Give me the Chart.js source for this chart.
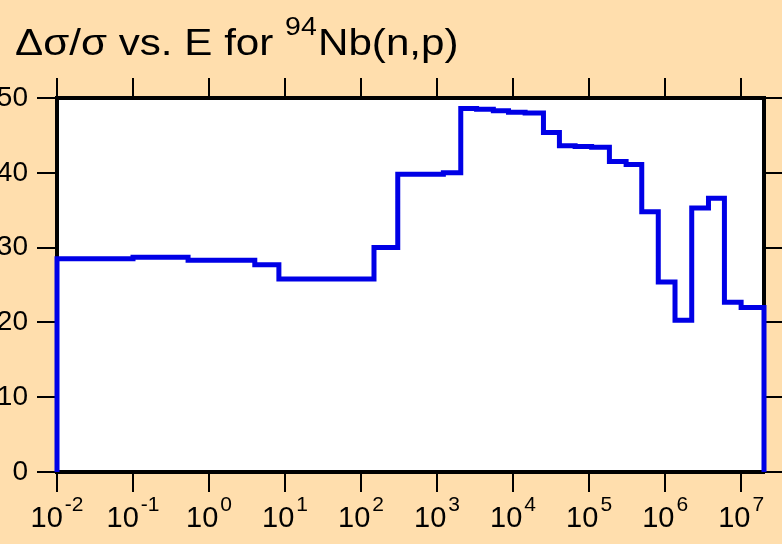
<!DOCTYPE html>
<html>
<head>
<meta charset="utf-8">
<script src="https://cdn.jsdelivr.net/npm/chart.js@4/dist/chart.umd.min.js"></script>
<style>
  html, body { margin: 0; padding: 0; background: #FFDEAD; }
  #box { position: relative; width: 782px; height: 544px; overflow: hidden; }
  canvas { position: absolute; left: 0; top: 0; }
</style>
</head>
<body>
<div id="box"><canvas id="c" width="782" height="544"></canvas></div>
<script>
// Group boundaries (eV) and relative uncertainty (%) in each group
const groupEdges = [
  0.01, 0.1, 0.53, 4.0, 8.3, 148, 304, 1210, 2050, 3310, 5500, 8710,
  14400, 25100, 40700, 65500, 108000, 185000, 307000, 493000, 813000,
  1.35e6, 2.24e6, 3.72e6, 6.03e6, 1.0e7, 2.0e7
];
const relUncertainty = [
  28.5, 28.7, 28.3, 27.7, 25.8, 30.0, 39.8, 40.0, 48.6, 48.5, 48.3,
  48.1, 48.0, 45.4, 43.6, 43.5, 43.4, 41.5, 41.1, 34.8, 25.4, 20.3,
  35.3, 36.6, 22.7, 22.0
];
const decadeExponents = [-2, -1, 0, 1, 2, 3, 4, 5, 6, 7];
const yTickValues = [0, 10, 20, 30, 40, 50];
const titleMain = ['\u0394\u03c3/\u03c3 vs. E for ', 'Nb(n,p)'];
const titleSup = '94';

// Histogram outline: each group's value is reached at its lower edge and held to its upper edge
const points = [{ x: groupEdges[0], y: 0 }];
relUncertainty.forEach((v, i) => points.push({ x: groupEdges[i + 1], y: v }));
points.push({ x: groupEdges[groupEdges.length - 1], y: 0 });

const FONT = '"Liberation Sans", Arial, Helvetica, sans-serif';
const tickGrid = { drawOnChartArea: false, drawTicks: true, tickLength: 20, color: '#000', lineWidth: 2 };
const frame = { display: true, color: '#000', width: 4 };
const decadeTicks = s => { s.ticks = decadeExponents.map(e => ({ value: Math.pow(10, e) })); };

const labelsPlugin = {
  id: 'labels',
  afterDraw(chart) {
    const ctx = chart.ctx;
    const xs = chart.scales.x;
    ctx.save();
    ctx.fillStyle = '#000';
    ctx.textBaseline = 'alphabetic';
    ctx.textAlign = 'left';
    // decade labels 10^n
    decadeExponents.forEach(e => {
      const px = xs.getPixelForValue(Math.pow(10, e));
      ctx.font = '29px ' + FONT;
      const wb = ctx.measureText('10').width;
      ctx.font = '21px ' + FONT;
      const es = e < 0 ? '-' + Math.abs(e) : String(e);
      const we = ctx.measureText(es).width;
      const x0 = px - (wb + 2 + we) / 2;
      ctx.font = '29px ' + FONT;
      ctx.fillText('10', x0, 527);
      ctx.font = '21px ' + FONT;
      ctx.fillText(es, x0 + wb + 2, 511);
    });
    // title with superscript mass number (slightly widened lettering)
    const sx = 1.14;
    ctx.translate(15, 0);
    ctx.scale(sx, 1);
    ctx.font = '37px ' + FONT;
    let x = 0;
    ctx.fillText(titleMain[0], x, 55);
    x += ctx.measureText(titleMain[0]).width;
    ctx.font = '25px ' + FONT;
    ctx.fillText(titleSup, x, 35);
    x += ctx.measureText(titleSup).width + 1;
    ctx.font = '37px ' + FONT;
    ctx.fillText(titleMain[1], x, 55);
    ctx.restore();
  }
};

const bgPlugin = {
  id: 'plotbg',
  beforeDraw(chart) {
    const { ctx, chartArea: a } = chart;
    ctx.save();
    ctx.fillStyle = '#FFDEAD';
    ctx.fillRect(0, 0, chart.width, chart.height);
    ctx.fillStyle = '#FFFFFF';
    ctx.fillRect(a.left, a.top, a.right - a.left, a.bottom - a.top);
    ctx.restore();
  }
};

new Chart(document.getElementById('c'), {
  type: 'line',
  data: {
    datasets: [{
      data: points,
      stepped: 'after',
      borderColor: '#0000E6',
      borderWidth: 5,
      pointRadius: 0,
      fill: false,
      clip: false,
      borderJoinStyle: 'miter',
      borderCapStyle: 'butt'
    }]
  },
  options: {
    responsive: false,
    animation: false,
    devicePixelRatio: 1,
    layout: { padding: 0 },
    plugins: { legend: { display: false }, tooltip: { enabled: false }, title: { display: false } },
    scales: {
      x: {
        type: 'logarithmic', position: 'bottom', min: 0.01, max: 2e7,
        afterBuildTicks: decadeTicks,
        afterFit: s => { s.height = 72; },
        ticks: { display: false, autoSkip: false },
        grid: tickGrid, border: frame
      },
      xTop: {
        type: 'logarithmic', position: 'top', min: 0.01, max: 2e7,
        afterBuildTicks: decadeTicks,
        afterFit: s => { s.height = 98; },
        ticks: { display: false, autoSkip: false },
        grid: tickGrid, border: frame
      },
      y: {
        position: 'left', min: 0, max: 50,
        afterBuildTicks: s => { s.ticks = yTickValues.map(v => ({ value: v })); },
        afterFit: s => { s.width = 57; },
        ticks: { color: '#000', font: { family: FONT, size: 28 }, padding: 9 },
        grid: tickGrid, border: frame
      },
      yRight: {
        position: 'right', min: 0, max: 50,
        afterBuildTicks: s => { s.ticks = yTickValues.map(v => ({ value: v })); },
        afterFit: s => { s.width = 18; },
        ticks: { display: false },
        grid: tickGrid, border: frame
      }
    }
  },
  plugins: [bgPlugin, labelsPlugin]
});
</script>
</body>
</html>
